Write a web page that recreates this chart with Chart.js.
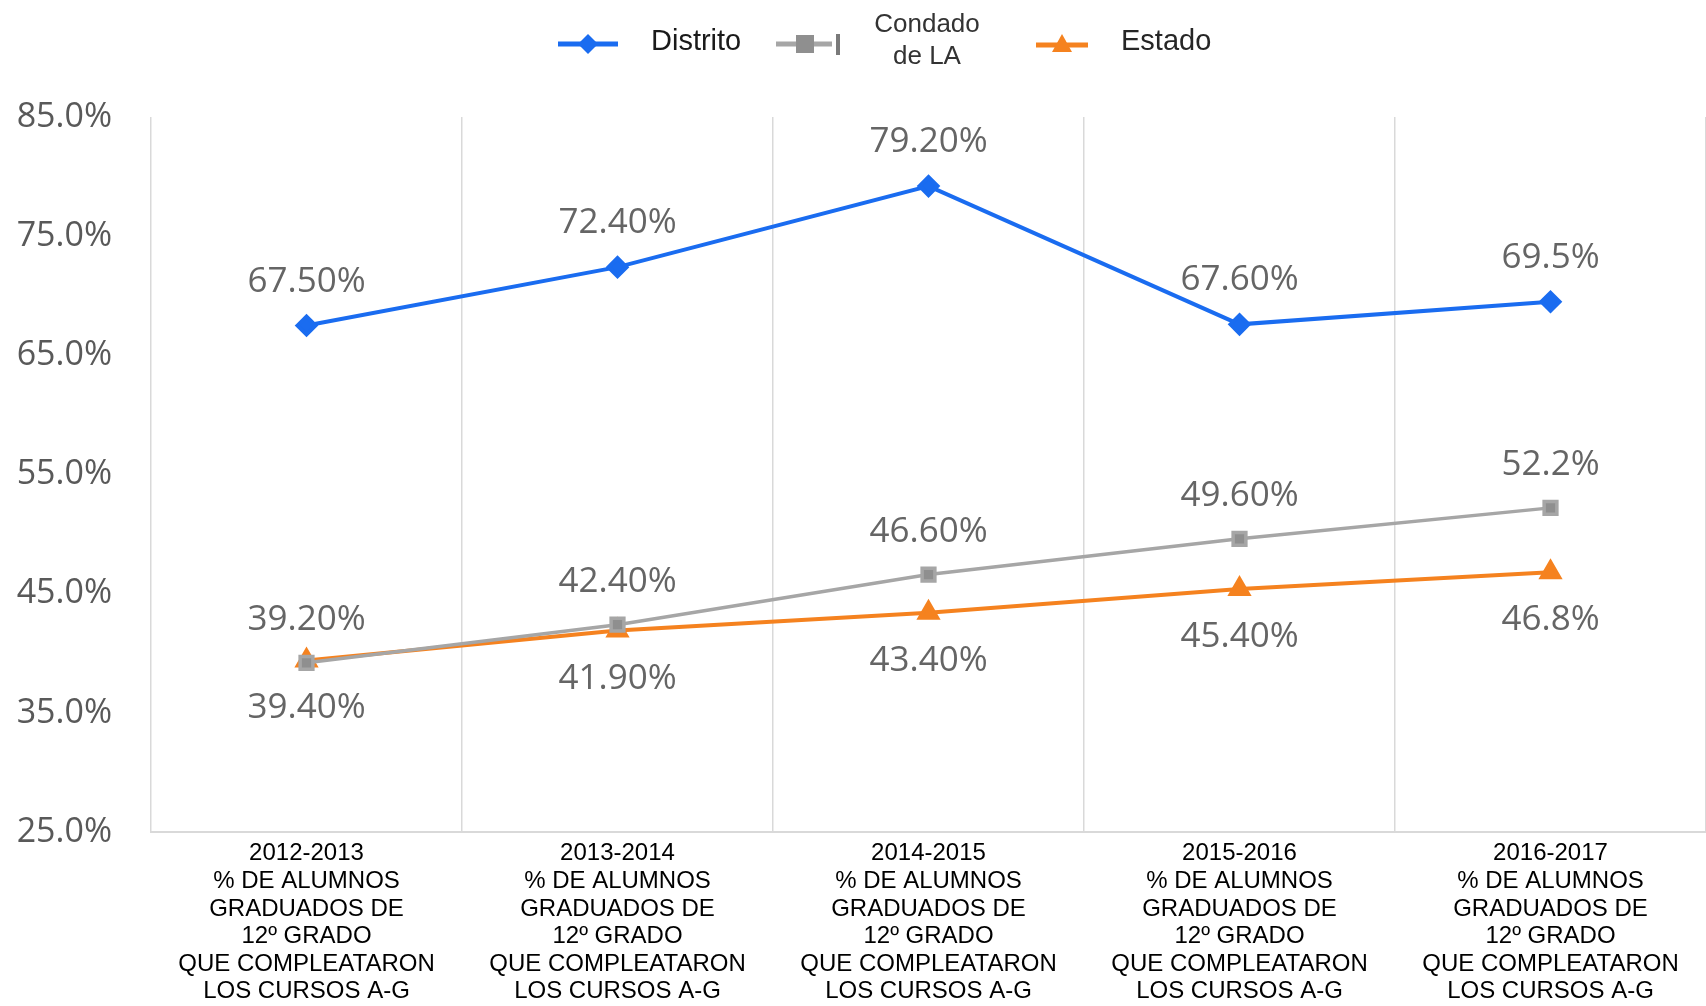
<!DOCTYPE html>
<html lang="es">
<head>
<meta charset="utf-8">
<title>Alumnos graduados que completaron los cursos A-G</title>
<script src="https://cdn.jsdelivr.net/npm/chart.js@4.4.1/dist/chart.umd.min.js"></script>
<style>
  html, body { margin: 0; padding: 0; background: #fff; }
  #wrap { position: relative; width: 1706px; height: 1006px; overflow: hidden; }
  #chart { position: absolute; left: 0; top: 0; }
  .legend-item { position: absolute; display: flex; align-items: center; }
  .legend-text { font-family: "Liberation Sans", Arial, sans-serif; color: #1a1a1a; }
</style>
</head>
<body>
<div id="wrap">
  <canvas id="chart" width="1706" height="1006"></canvas>

  <!-- legend: line + marker swatches, same look as the series -->
  <div class="legend-item" style="left:556px; top:25px;">
    <svg width="64" height="38" viewBox="0 0 64 38">
      <line x1="2" y1="19" x2="62" y2="19" stroke="#1a6cf0" stroke-width="5"/>
      <polygon points="32,9 42,19 32,29 22,19" fill="#1a6cf0"/>
    </svg>
  </div>
  <div class="legend-item legend-text" style="left:651px; top:24px; font-size:29px;">Distrito</div>

  <div class="legend-item" style="left:774px; top:25px;">
    <svg width="68" height="38" viewBox="0 0 68 38">
      <line x1="2" y1="19" x2="58" y2="19" stroke="#a6a6a6" stroke-width="5"/>
      <rect x="22" y="10" width="18" height="18" fill="#8f8f8f"/>
      <rect x="62" y="9" width="4" height="21" fill="#7a7a7a"/>
    </svg>
  </div>
  <div class="legend-item legend-text" style="left:867px; top:7px; width:120px; font-size:26px; line-height:32px; color:#333; text-align:center; display:block;">Condado<br>de LA</div>

  <div class="legend-item" style="left:1034px; top:25px;">
    <svg width="56" height="38" viewBox="0 0 56 38">
      <line x1="2" y1="20" x2="54" y2="20" stroke="#f5821f" stroke-width="5"/>
      <polygon points="28,9 38,27 18,27" fill="#f5821f"/>
    </svg>
  </div>
  <div class="legend-item legend-text" style="left:1121px; top:24px; font-size:29px; color:#262626;">Estado</div>
</div>

<script>
// ---------- Data ----------
const categories = [
  ['2012-2013', '% DE ALUMNOS', 'GRADUADOS DE', '12º GRADO', 'QUE COMPLEATARON', 'LOS CURSOS A-G'],
  ['2013-2014', '% DE ALUMNOS', 'GRADUADOS DE', '12º GRADO', 'QUE COMPLEATARON', 'LOS CURSOS A-G'],
  ['2014-2015', '% DE ALUMNOS', 'GRADUADOS DE', '12º GRADO', 'QUE COMPLEATARON', 'LOS CURSOS A-G'],
  ['2015-2016', '% DE ALUMNOS', 'GRADUADOS DE', '12º GRADO', 'QUE COMPLEATARON', 'LOS CURSOS A-G'],
  ['2016-2017', '% DE ALUMNOS', 'GRADUADOS DE', '12º GRADO', 'QUE COMPLEATARON', 'LOS CURSOS A-G']
];

const distrito = [67.5, 72.4, 79.2, 67.6, 69.5];
const condadoLA = [39.2, 42.4, 46.6, 49.6, 52.2];
const estado = [39.4, 41.9, 43.4, 45.4, 46.8];

// decimals shown in each year's value label (the last year is reported with one)
const labelDecimals = [2, 2, 2, 2, 1];

const yMin = 25;
const yMax = 85;
const yStep = 10;

// ---------- Value labels ----------
const valueLabels = {
  id: 'valueLabels',
  afterDatasetsDraw(chart) {
    const { ctx } = chart;
    ctx.save();
    ctx.font = '35px "Open Sans", sans-serif';
    ctx.fillStyle = '#656565';
    ctx.textAlign = 'center';
    ctx.textBaseline = 'middle';
    chart.data.datasets.forEach((ds, i) => {
      const meta = chart.getDatasetMeta(i);
      meta.data.forEach((pt, j) => {
        const txt = ds.data[j].toFixed(labelDecimals[j]) + '%';
        ctx.fillText(txt, pt.x, pt.y + ds.labelOffset);
      });
    });
    ctx.restore();
  }
};

// ---------- Chart ----------
const ctx = document.getElementById('chart');
new Chart(ctx, {
  type: 'line',
  data: {
    labels: categories,
    datasets: [
      {
        label: 'Distrito',
        data: distrito,
        borderColor: '#1a6cf0',
        backgroundColor: '#1a6cf0',
        borderWidth: 4,
        pointStyle: 'rectRot',
        pointRadius: 9,
        labelOffset: -44
      },
      {
        label: 'Condado de LA',
        data: condadoLA,
        borderColor: '#a6a6a6',
        backgroundColor: '#8f8f8f',
        borderWidth: 3.5,
        pointStyle: 'rect',
        pointRadius: 9,
        labelOffset: -43
      },
      {
        label: 'Estado',
        data: estado,
        borderColor: '#f5821f',
        backgroundColor: '#f5821f',
        borderWidth: 4,
        pointStyle: 'triangle',
        pointRadius: 10,
        labelOffset: 48
      }
    ]
  },
  options: {
    responsive: false,
    animation: false,
    devicePixelRatio: 1,
    layout: { autoPadding: false, padding: { top: 117, right: 0, bottom: 0, left: 0 } },
    elements: {
      line: { tension: 0 },
      point: { borderWidth: 0, hoverRadius: 9 }
    },
    plugins: {
      legend: { display: false },
      title: { display: false },
      tooltip: { enabled: false }
    },
    scales: {
      x: {
        offset: true,
        grid: { offset: true, color: '#d9d9d9', lineWidth: 1.5, drawTicks: false },
        border: { color: '#d9d9d9', width: 2 },
        ticks: {
          autoSkip: false,
          maxRotation: 0,
          minRotation: 0,
          padding: 8,
          color: '#000',
          font: { family: '"Liberation Sans", Arial, sans-serif', size: 24, lineHeight: 1.15 }
        },
        afterFit(scale) { scale.height = 174; }
      },
      y: {
        min: yMin,
        max: yMax,
        grid: { display: false, drawTicks: false },
        border: { display: false },
        ticks: {
          stepSize: yStep,
          padding: 39,
          color: '#595959',
          font: { family: '"Open Sans", sans-serif', size: 34 },
          callback: (v) => v.toFixed(1) + '%'
        },
        afterFit(scale) { scale.width = 151; }
      }
    }
  },
  plugins: [valueLabels]
});
</script>
</body>
</html>
